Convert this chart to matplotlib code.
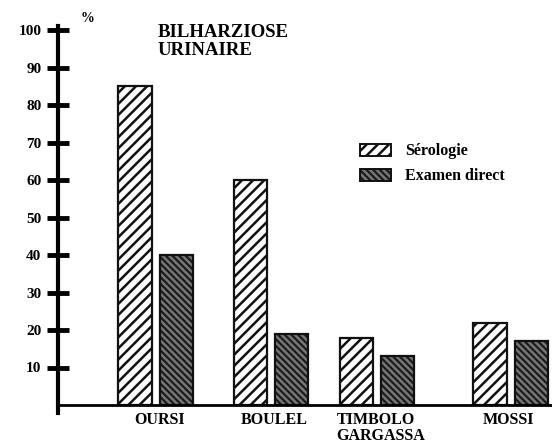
import matplotlib
matplotlib.use('Agg')
import matplotlib.pyplot as plt
from matplotlib.patches import Patch
from matplotlib.legend_handler import HandlerTuple

sites = ['OURSI', 'BOULEL', 'TIMBOLO\nGARGASSA', 'MOSSI']
serologie = [85, 60, 18, 22]
examen_direct = [40, 19, 13, 17]
yticks = [10, 20, 30, 40, 50, 60, 70, 80, 90, 100]

plt.rcParams['font.family'] = 'Liberation Serif'
plt.rcParams['font.weight'] = 'bold'
plt.rcParams['hatch.linewidth'] = 1.8

fig = plt.figure(figsize=(5.52, 4.43), dpi=100)
ax = fig.add_axes([58/552, 1 - 405/443, 1 - 58/552, 375/443])

# group positions (uneven spacing as in the original drawing)
pos = [0, 1, 1.92, 3.08]
off = 0.18
w = 0.29

xs = [p - off for p in pos]
xe = [p + off for p in pos]
ax.bar(xs, serologie, w, facecolor='white', edgecolor='#111111', hatch='///', linewidth=1.6)
ax.bar(xe, examen_direct, w, facecolor='#1a1a1a', edgecolor='#777777', hatch='\\\\\\\\\\', linewidth=0)
ax.bar(xe, examen_direct, w, fill=False, edgecolor='#111111', linewidth=1.6)

ax.set_xlim(-0.85, 3.44)
ax.set_ylim(0, 100)
ax.set_yticks(yticks)
ax.set_yticklabels([str(v) for v in yticks], fontsize=11, fontweight='bold')
ax.tick_params(axis='y', direction='inout', length=16, width=3.5, pad=4)
ax.set_xticks([])

for s in ['top', 'right']:
    ax.spines[s].set_visible(False)
ax.spines['left'].set_linewidth(3)
ax.spines['bottom'].set_linewidth(2)
ax.spines['left'].set_bounds(-2, 101)
ax.spines['bottom'].set_position(('data', 0))

# category labels
lab_x = [0.03, 1.03, 1.57, 3.06]
for x, s in zip(lab_x, sites):
    ha = 'left' if '\n' in s else 'center'
    ax.text(x, -2, s, ha=ha, va='top', fontsize=11.5, fontweight='bold',
            linespacing=1.0, clip_on=False)

fig.text(88/552, 1 - 18/443, '%', fontsize=10, fontweight='bold', ha='center', va='center')
fig.text(158/552, 1 - 24/443, 'BILHARZIOSE\nURINAIRE', fontsize=13.5, fontweight='bold',
         ha='left', va='top', linespacing=1.1)

h1 = Patch(facecolor='white', edgecolor='#111111', hatch='///', linewidth=1.4)
h2a = Patch(facecolor='#1a1a1a', edgecolor='#777777', hatch='\\\\\\\\\\', linewidth=0)
h2b = Patch(fill=False, edgecolor='#111111', linewidth=1.4)
fig.legend([h1, (h2a, h2b)], ['Sérologie', 'Examen direct'],
           handler_map={tuple: HandlerTuple(ndivide=1, pad=0)},
           loc='upper left', bbox_to_anchor=(346/552, 1 - 129/443), frameon=False,
           prop={'weight': 'bold', 'size': 11.5}, handlelength=1.9, handleheight=0.8,
           labelspacing=0.55, handletextpad=0.9)

fig.savefig('out.png', dpi=100)
